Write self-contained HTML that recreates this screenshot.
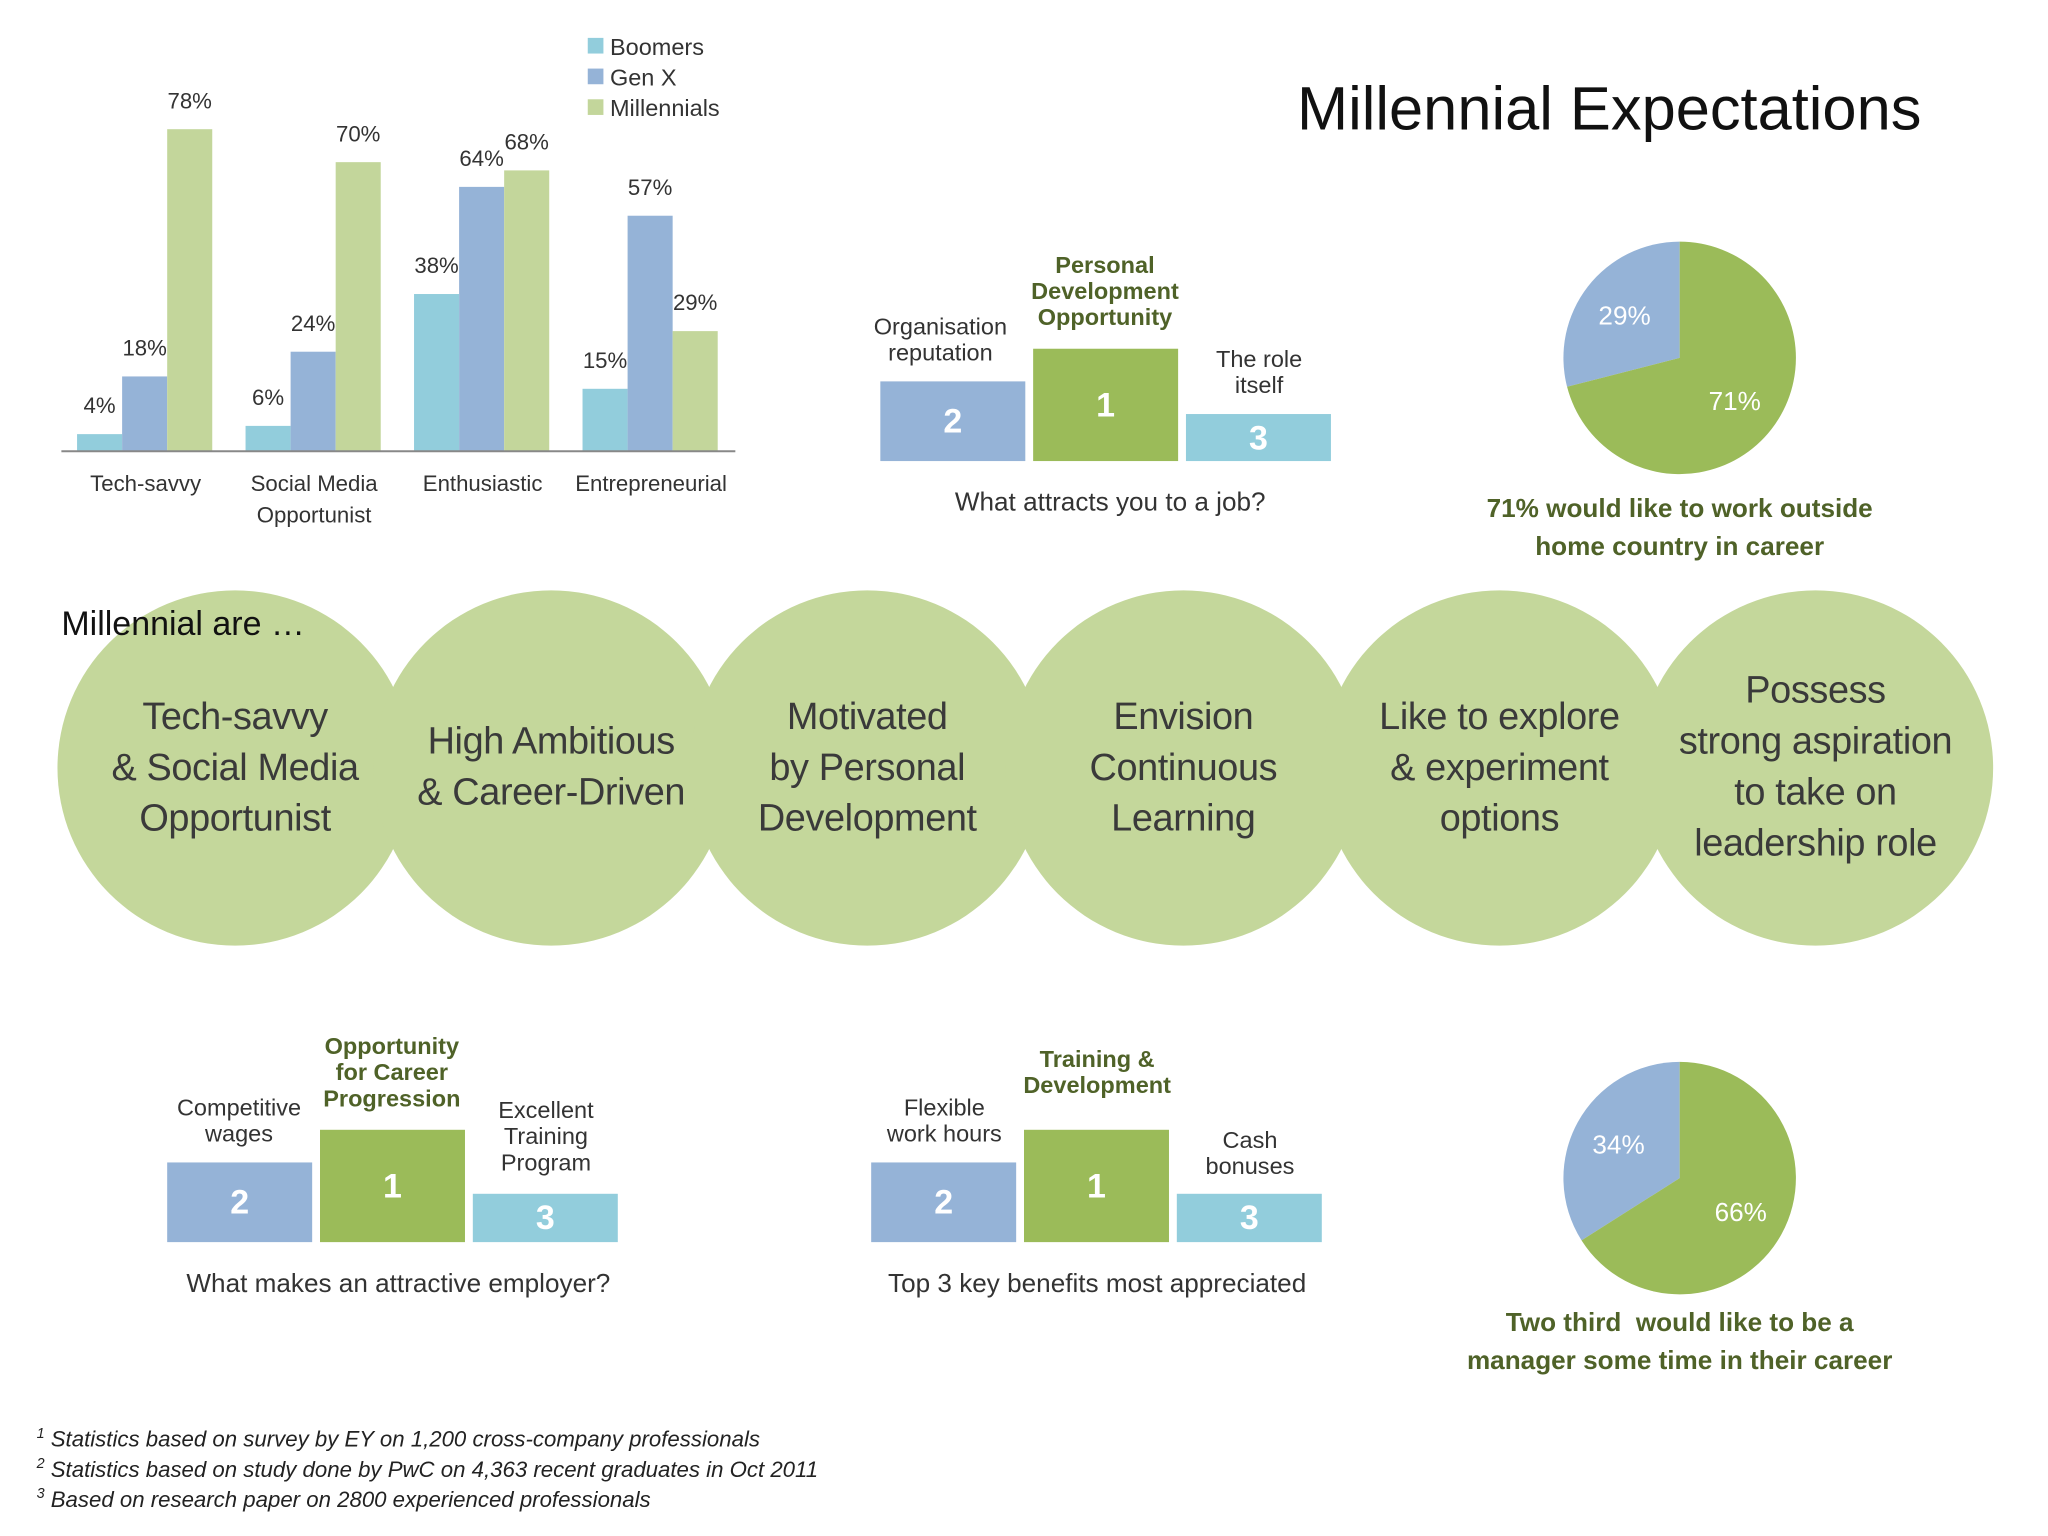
<!DOCTYPE html>
<html><head><meta charset="utf-8"><style>
html,body{margin:0;padding:0;background:#fff;}
body{width:2048px;height:1536px;overflow:hidden;}
#s{position:absolute;left:0;top:0;width:1568px;height:1176px;transform:scale(1.306122);transform-origin:0 0;font-family:"Liberation Sans","DejaVu Sans",sans-serif;color:#333;}
.a{position:absolute;}
.c{position:absolute;text-align:center;}
.bx{position:absolute;color:#fff;font-weight:bold;font-size:26px;display:flex;align-items:center;justify-content:center;}
.lbl{position:absolute;text-align:center;font-size:18px;line-height:20px;color:#333;white-space:nowrap;}
.g{color:#4F6228;font-weight:bold;}
.circ{position:absolute;width:272px;height:272px;border-radius:50%;background:#C4D79B;display:flex;align-items:center;justify-content:center;text-align:center;font-size:29px;line-height:39px;color:#3a3a3a;white-space:nowrap;letter-spacing:-0.3px;}
.fn{position:absolute;left:28px;font-style:italic;font-size:17px;color:#222;}
</style></head><body>
<div id="s">
<svg id="bar" class="a" style="left:0;top:0" width="600" height="420"></svg>

<div class="a" style="left:993px;top:55px;font-size:47px;color:#111;">Millennial Expectations</div>

<div>
<div class="lbl" style="left:655px;top:240px;width:130px;">Organisation<br>reputation</div>
<div class="lbl g" style="left:776px;top:193px;width:140px;">Personal<br>Development<br>Opportunity</div>
<div class="lbl" style="left:900px;top:265px;width:128px;">The role<br>itself</div>
<div class="bx" style="left:674px;top:292px;width:111px;height:61px;background:#95B3D7">2</div>
<div class="bx" style="left:791px;top:267px;width:111px;height:86px;background:#9BBB59">1</div>
<div class="bx" style="left:908px;top:317px;width:111px;height:36px;background:#92CDDC">3</div>
<div class="c" style="left:680px;top:374px;width:340px;font-size:20px;">What attracts you to a job?</div>
</div>

<svg class="a" style="left:1190px;top:180px" width="200" height="190" id="pie1"></svg>
<div class="c g" style="left:1080px;top:376px;width:412px;font-size:20px;line-height:29px;">71% would like to work outside<br>home country in career</div>

<div class="circ" style="left:44px;top:452px;">Tech-savvy<br>&amp; Social Media<br>Opportunist</div>
<div class="circ" style="left:286px;top:452px;">High Ambitious<br>&amp; Career-Driven</div>
<div class="circ" style="left:528px;top:452px;">Motivated<br>by Personal<br>Development</div>
<div class="circ" style="left:770px;top:452px;">Envision<br>Continuous<br>Learning</div>
<div class="circ" style="left:1012px;top:452px;">Like to explore<br>&amp; experiment<br>options</div>
<div class="circ" style="left:1254px;top:452px;">Possess<br>strong aspiration<br>to take on<br>leadership role</div>

<div class="a" style="left:47px;top:462px;font-size:26px;color:#111;z-index:2;">Millennial are …</div>

<div>
<div class="lbl" style="left:118px;top:838px;width:130px;">Competitive<br>wages</div>
<div class="lbl g" style="left:230px;top:791px;width:140px;">Opportunity<br>for Career<br>Progression</div>
<div class="lbl" style="left:354px;top:840px;width:128px;">Excellent<br>Training<br>Program</div>
<div class="bx" style="left:128px;top:890px;width:111px;height:61px;background:#95B3D7">2</div>
<div class="bx" style="left:245px;top:865px;width:111px;height:86px;background:#9BBB59">1</div>
<div class="bx" style="left:362px;top:914px;width:111px;height:37px;background:#92CDDC">3</div>
<div class="c" style="left:105px;top:972px;width:400px;font-size:20px;">What makes an attractive employer?</div>
</div>

<div>
<div class="lbl" style="left:658px;top:838px;width:130px;">Flexible<br>work hours</div>
<div class="lbl g" style="left:770px;top:801px;width:140px;">Training &amp;<br>Development</div>
<div class="lbl" style="left:893px;top:863px;width:128px;">Cash<br>bonuses</div>
<div class="bx" style="left:667px;top:890px;width:111px;height:61px;background:#95B3D7">2</div>
<div class="bx" style="left:784px;top:865px;width:111px;height:86px;background:#9BBB59">1</div>
<div class="bx" style="left:901px;top:914px;width:111px;height:37px;background:#92CDDC">3</div>
<div class="c" style="left:620px;top:972px;width:440px;font-size:20px;">Top 3 key benefits most appreciated</div>
</div>

<svg class="a" style="left:1190px;top:808px" width="200" height="190" id="pie2"></svg>
<div class="c g" style="left:1080px;top:999px;width:412px;font-size:20px;line-height:29px;">Two third&nbsp; would like to be a<br>manager some time in their career</div>

<div class="fn" style="top:1092px;"><sup style="font-size:11px">1</sup> Statistics based on survey by EY on 1,200 cross-company professionals</div>
<div class="fn" style="top:1115px;"><sup style="font-size:11px">2</sup> Statistics based on study done by PwC on 4,363 recent graduates in Oct 2011</div>
<div class="fn" style="top:1138px;"><sup style="font-size:11px">3</sup> Based on research paper on 2800 experienced professionals</div>
</div>
<script>
const categories=[["Tech-savvy"],["Social Media","Opportunist"],["Enthusiastic"],["Entrepreneurial"]];
const seriesNames=["Boomers","Gen X","Millennials"];
const boomers=[4,6,38,15];
const genX=[18,24,64,57];
const millennials=[78,70,68,29];
const pie1Values=[29,71];
const pie2Values=[34,66];
const NS="http://www.w3.org/2000/svg";
const colors=["#92CDDC","#95B3D7","#C3D69B"];
function mk(p,t,a){const e=document.createElementNS(NS,t);for(const k in a)e.setAttribute(k,a[k]);p.appendChild(e);return e;}
const svg=document.getElementById('bar');
const x0=47,x1=563,y0=345,ppu=3.155;
const gw=(x1-x0)/categories.length,bw=34.5,gpad=12;
const yS=v=>y0-v*ppu;
const series=[boomers,genX,millennials];
series.forEach((arr,si)=>{arr.forEach((v,ci)=>{
 const x=x0+ci*gw+gpad+si*bw;
 const r=mk(svg,'rect',{x:x,y:yS(v),width:bw,height:v*ppu,fill:colors[si]});
 
 
 const t=mk(svg,'text',{x:x+bw/2,y:yS(v)-16,'text-anchor':'middle','font-size':17,fill:'#333'});
 t.textContent=v+'%';
 
 
});});
const ax=mk(svg,'line',{x1:x0,x2:x1,y1:y0+0.5,y2:y0+0.5,stroke:'#888','stroke-width':1.5});


categories.forEach((c,ci)=>{c.forEach((ln,li)=>{
 const t=mk(svg,'text',{x:x0+ci*gw+gw/2,y:376+li*24,'text-anchor':'middle','font-size':17,fill:'#333'});
 t.textContent=ln;
 
 
});});
seriesNames.forEach((n,i)=>{
 const r=mk(svg,'rect',{x:450,y:29+i*23.5,width:12,height:12,fill:colors[i]});
 
 
 const t=mk(svg,'text',{x:467,y:42+i*23.5,'font-size':18,fill:'#333'});
 t.textContent=n;
 
 
});
function pie(id,vals){
 const s=document.getElementById(id);const cx=96,cy=94,r=89;
 const tot=vals[0]+vals[1];
 const a=vals[0]/tot*2*Math.PI;
 const px=cx-r*Math.sin(a),py=cy-r*Math.cos(a);
 const b=mk(s,'path',{d:`M${cx},${cy} L${cx},${cy-r} A${r},${r} 0 ${a>Math.PI?1:0} 0 ${px},${py} Z`,fill:'#95B3D7'});
 
 
 const g=mk(s,'path',{d:`M${cx},${cy} L${cx},${cy-r} A${r},${r} 0 ${a<Math.PI?1:0} 1 ${px},${py} Z`,fill:'#9BBB59'});
 
 
 const m1=a/2,m2=a+(2*Math.PI-a)/2;
 [[m1,vals[0]],[m2,vals[1]]].forEach(([m,v])=>{
  const t=mk(s,'text',{x:cx-r*0.6*Math.sin(m),y:cy-r*0.6*Math.cos(m)+7,'text-anchor':'middle','font-size':20,fill:'#fff'});
  t.textContent=v+'%';
  
  
 });
}
pie('pie1',pie1Values);pie('pie2',pie2Values);
</script>
</body></html>
